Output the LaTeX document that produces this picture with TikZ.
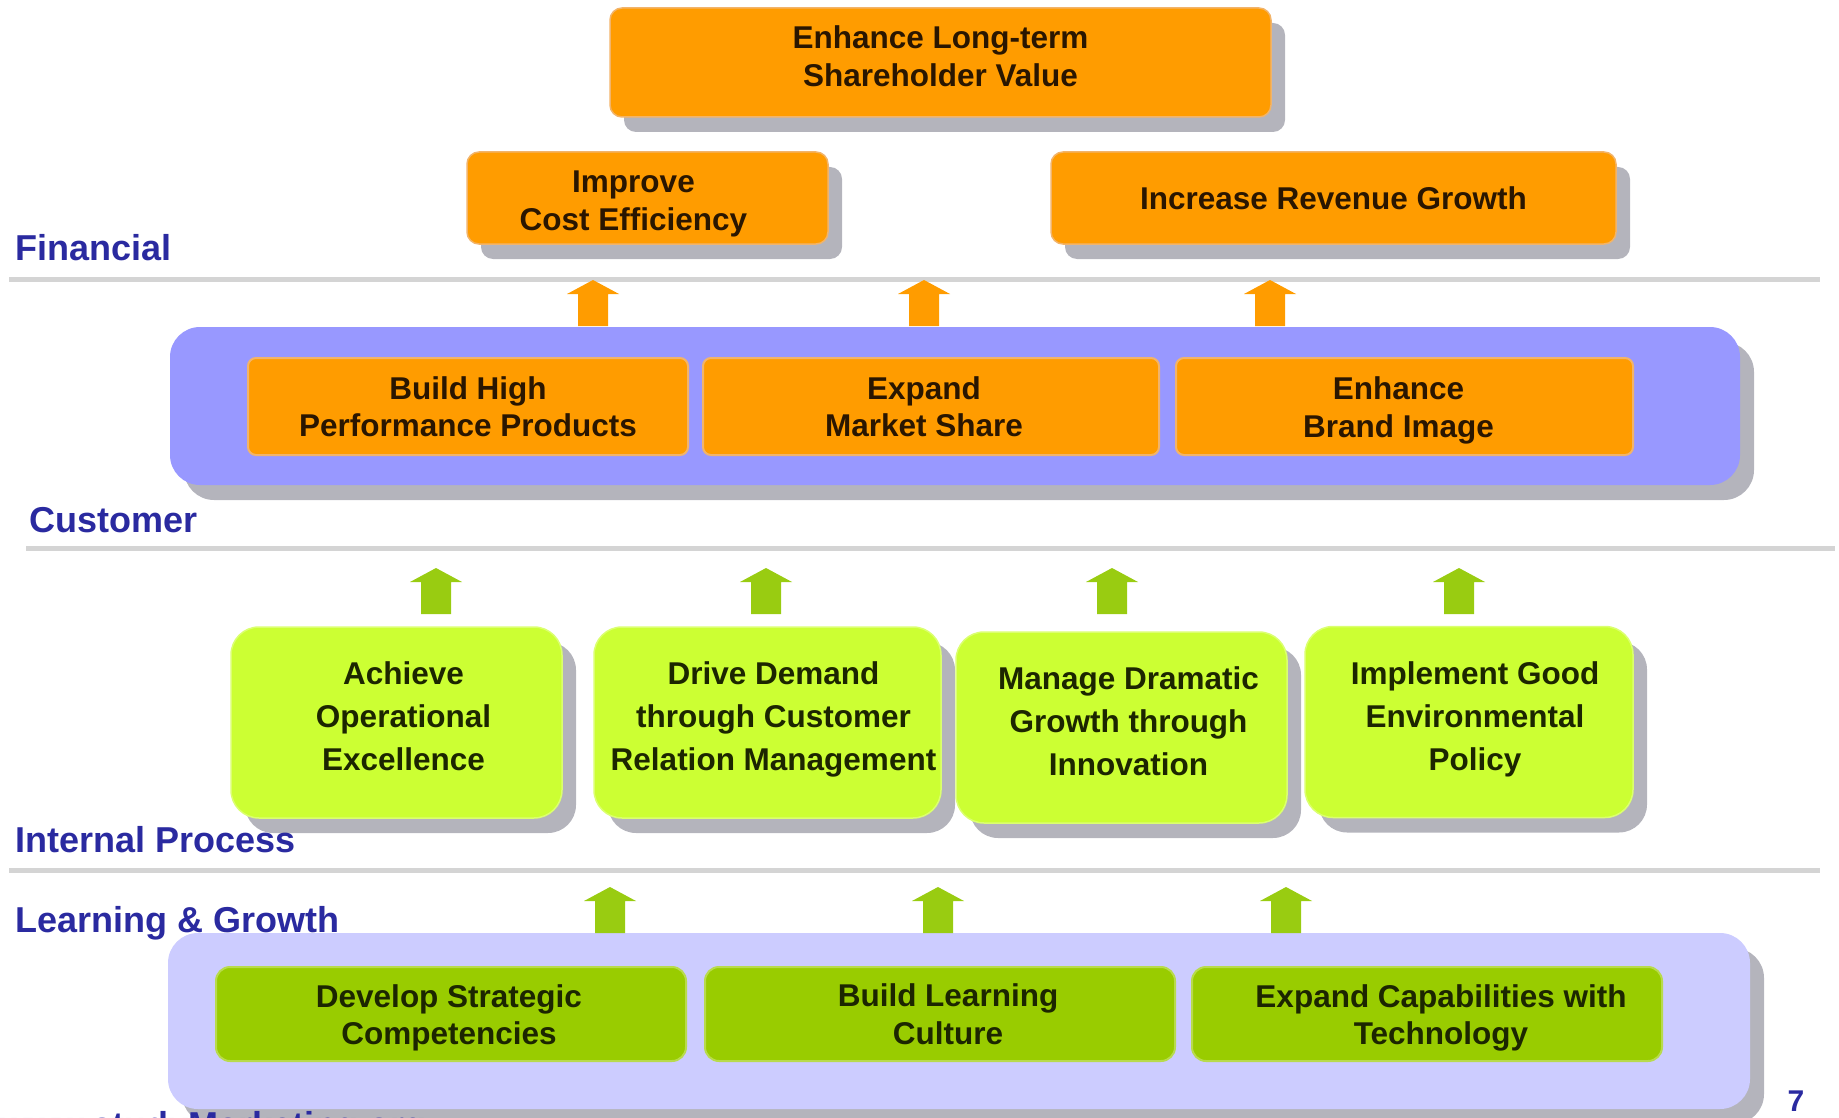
\documentclass[tikz,border=0pt]{standalone}
\usepackage{fontspec}
\setmainfont{Liberation Sans}
\usetikzlibrary{shadows}
\definecolor{org}{HTML}{FF9C00}
\definecolor{orgedge}{HTML}{F2B46A}
\definecolor{orgtext}{HTML}{2A1600}
\definecolor{bluband}{HTML}{9898FF}
\definecolor{lavband}{HTML}{CCCCFF}
\definecolor{lgreen}{HTML}{CCFF33}
\definecolor{dgreen}{HTML}{99CC00}
\definecolor{arrgreen}{HTML}{99CC11}
\definecolor{gtext}{HTML}{1C2600}
\definecolor{lbl}{HTML}{2A2AA0}
\definecolor{rule}{HTML}{D4D4D4}
\definecolor{shadowc}{HTML}{B4B4BC}
\newcommand{\boxfont}{\fontsize{31.5}{37.5}\selectfont\bfseries}
\newcommand{\gboxfont}{\fontsize{31.5}{43}\selectfont\bfseries}
\newcommand{\lblfont}{\fontsize{36}{40}\selectfont\bfseries}
\newcommand{\blockup}[3]{%
  \fill[#3] (#1-15,#2) -- (#1-15,#2-32) -- (#1-26,#2-32) -- (#1,#2-46)
    -- (#1+26,#2-32) -- (#1+15,#2-32) -- (#1+15,#2) -- cycle;}
\tikzset{
  base/.style={rectangle, inner sep=0pt},
  shad/.style={drop shadow={shadow xshift=14pt, shadow yshift=-15pt, fill=shadowc, opacity=1}},
  obox/.style={base, shad, fill=org, draw=orgedge, line width=1.5pt, rounded corners=12pt},
  oinner/.style={base, fill=org, draw=orgedge, line width=2pt, rounded corners=8pt},
  lgbox/.style={base, shad, fill=lgreen, draw=lgreen!70!white, line width=1.5pt, rounded corners=28pt},
  dgbox/.style={base, fill=dgreen, draw=dgreen!70!white, line width=2pt, rounded corners=14pt},
  band/.style={rectangle, shad, rounded corners=30pt, inner sep=0pt},
  otxt/.style={inner sep=0pt, align=center, font=\boxfont, text=orgtext},
  gtxt/.style={inner sep=0pt, align=center, font=\gboxfont, text=gtext},
  dtxt/.style={inner sep=0pt, align=center, font=\boxfont, text=gtext},
  lbltext/.style={anchor=base west, font=\lblfont, text=lbl, inner sep=0pt},
  rulestyle/.style={draw=rule, line width=5pt}
}
\begin{document}
\begin{tikzpicture}[x=1pt,y=-1pt]
\useasboundingbox (0,0) rectangle (1839,1118);
\clip (0,0) rectangle (1839,1118);

% separator rules
\coordinate (r1a) at (9,279);   \coordinate (r1b) at (1820,279);
\coordinate (r2a) at (26,548);  \coordinate (r2b) at (1835,548);
\coordinate (r3a) at (9,870);   \coordinate (r3b) at (1820,870);
\draw[rulestyle] (r1a) -- (r1b);
\draw[rulestyle] (r2a) -- (r2b);
\draw[rulestyle] (r3a) -- (r3b);

% Financial
\node[obox, minimum width=661pt, minimum height=109pt] (sv) at (940.5,62.5) {};
\node[otxt] (svt) at (940.5,56) {Enhance Long-term\\Shareholder Value};
\node[obox, minimum width=361pt, minimum height=92pt] (ice) at (647.5,198) {};
\node[otxt] (icet) at (633.5,204) {Improve\\Cost Efficiency};
\node[obox, minimum width=565pt, minimum height=92pt] (irg) at (1333.5,198) {};
\node[otxt] (irgt) at (1333.5,198) {Increase Revenue Growth};

% Customer band
\node[band, fill=bluband, minimum width=1570pt, minimum height=158pt] (cband) at (955,406) {};
\node[oinner, minimum width=440pt, minimum height=97pt] (bhp) at (468,406.5) {};
\node[otxt] (bhpt) at (468,406.5) {Build High\\Performance Products};
\node[oinner, minimum width=456pt, minimum height=97pt] (ems) at (931,406.5) {};
\node[otxt] (emst) at (924,406.5) {Expand\\Market Share};
\node[oinner, minimum width=457pt, minimum height=97pt] (ebi) at (1404.5,406.5) {};
\node[otxt] (ebit) at (1398.5,410.5) {Enhance\\Brand Image};

% orange arrows
\blockup{593}{326}{org}
\blockup{924}{326}{org}
\blockup{1270}{326}{org}

% Internal process
\node[lgbox, minimum width=331pt, minimum height=191pt] (aoe) at (396.5,722.5) {};
\node[gtxt] (aoet) at (403.5,716.5) {Achieve\\Operational\\Excellence};
\node[lgbox, minimum width=347pt, minimum height=191pt] (ddc) at (767.5,722.5) {};
\node[gtxt] (ddct) at (773.5,719) {Drive Demand\\through Customer\\Relation Management};
\node[lgbox, minimum width=331pt, minimum height=191pt] (mdg) at (1121.5,727.5) {};
\node[gtxt] (mdgt) at (1128.5,721.5) {Manage Dramatic\\Growth through\\Innovation};
\node[lgbox, minimum width=328pt, minimum height=191pt] (ige) at (1469,722) {};
\node[gtxt] (iget) at (1475,719.5) {Implement Good\\Environmental\\Policy};

% light green arrows
\blockup{436}{614}{arrgreen}
\blockup{766}{614}{arrgreen}
\blockup{1112}{614}{arrgreen}
\blockup{1459}{614}{arrgreen}

% Learning & growth band
\node[band, fill=lavband, minimum width=1582pt, minimum height=176pt] (lband) at (959,1021) {};
\node[dgbox, minimum width=470pt, minimum height=94pt] (dsc) at (451,1014) {};
\node[dtxt] (dsct) at (449,1018) {Develop Strategic\\Competencies};
\node[dgbox, minimum width=470pt, minimum height=94pt] (blc) at (940,1014) {};
\node[dtxt] (blct) at (948,1014) {Build Learning\\Culture};
\node[dgbox, minimum width=470pt, minimum height=94pt] (ect) at (1427,1014) {};
\node[dtxt] (ectt) at (1441,1018) {Expand Capabilities with\\Technology};

% dark green arrows
\blockup{610}{933}{arrgreen}
\blockup{938}{933}{arrgreen}
\blockup{1286}{933}{arrgreen}

% perspective labels
\node[lbltext] (lfin) at (15,260) {Financial};
\node[lbltext] (lcus) at (29,532) {Customer};
\node[lbltext] (lint) at (15,852) {Internal Process};
\node[lbltext] (llg) at (15,932) {Learning \& Growth};

% footer (cut off at the page edge, as in the reference)
\node[lbltext] (web) at (0,1137) {www.studyMarketing.org};
\node[anchor=base, font=\fontsize{30}{34}\selectfont\bfseries, text=lbl, inner sep=0pt] (pg) at (1796,1111) {7};
\end{tikzpicture}
\end{document}
